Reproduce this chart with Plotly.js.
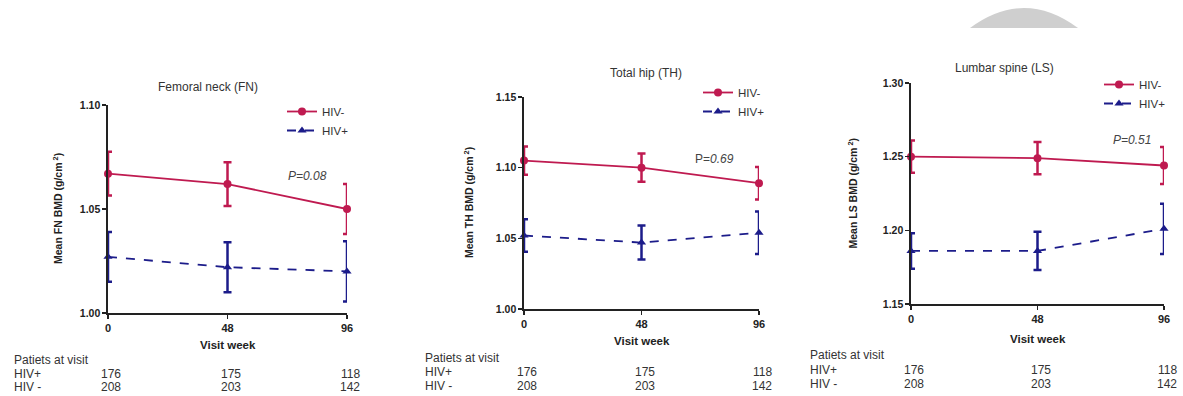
<!DOCTYPE html>
<html>
<head>
<meta charset="utf-8">
<script src="https://cdn.plot.ly/plotly-3.0.1.min.js"></script>
<style>html,body{margin:0;padding:0;background:#fff;}#chart{width:1183px;height:396px;}</style>
</head>
<body>
<div id="chart"></div>
<script>
const weeks = [0, 48, 96];
const weekTicks = ['0', '48', '96'];
const panelTitles = ['Femoral neck (FN)', 'Total hip (TH)', 'Lumbar spine (LS)'];
const yTitles = ['Mean FN BMD (g/cm<sup> 2</sup>)', 'Mean TH BMD (g/cm<sup> 2</sup>)', 'Mean LS BMD (g/cm<sup> 2</sup>)'];
const pLabels = ['<i>P=0.08</i>', 'P=<i>0.69</i>', '<i>P=0.51</i>'];
const seriesNames = ['HIV-', 'HIV+'];

const fnNeg = [1.067, 1.062, 1.050];
const fnNegErr = [0.0105, 0.0105, 0.012];
const fnPos = [1.027, 1.022, 1.020];
const fnPosErr = [0.012, 0.012, 0.0145];

const thNeg = [1.105, 1.100, 1.089];
const thNegErr = [0.010, 0.010, 0.0115];
const thPos = [1.052, 1.047, 1.054];
const thPosErr = [0.0115, 0.012, 0.015];

const lsNeg = [1.250, 1.249, 1.244];
const lsNegErr = [0.011, 0.011, 0.0125];
const lsPos = [1.186, 1.186, 1.201];
const lsPosErr = [0.012, 0.013, 0.017];

const tableHeader = 'Patiets at visit';
const rowLabels = ['HIV+', 'HIV -'];
const hivPosN = [176, 175, 118];
const hivNegN = [208, 203, 142];

const W = 1183, H = 396;
const px = x => x / W;
const py = y => 1 - y / H;

const NEG_COLOR = '#bf1a50';
const POS_COLOR = '#1c1c8a';
const FONT = 'Liberation Sans, Arial, sans-serif';

const panels = [
  {neg: fnNeg, negErr: fnNegErr, pos: fnPos, posErr: fnPosErr, range: [1.00, 1.10],
   xd: [108, 347], yd: [313, 105], legendPos: [282, 97], pPos: [80, 1.066],
   titlePos: [208, 87], yTitleX: 57, xTitleY: 345, tableY: [360, 374, 387], tableX: 12},
  {neg: thNeg, negErr: thNegErr, pos: thPos, posErr: thPosErr, range: [1.00, 1.15],
   xd: [524, 759], yd: [309, 97], legendPos: [698, 78], pPos: [78, 1.106],
   titlePos: [646, 73], yTitleX: 468, xTitleY: 341, tableY: [358, 372, 386], tableX: 423},
  {neg: lsNeg, negErr: lsNegErr, pos: lsPos, posErr: lsPosErr, range: [1.15, 1.30],
   xd: [911, 1164], yd: [304, 83], legendPos: [1099, 70], pPos: [84, 1.261],
   titlePos: [1005, 68], yTitleX: 852, xTitleY: 339, tableY: [355, 370, 384], tableX: 808}
];

const data = [];
const layout = {
  width: W, height: H,
  margin: {l: 0, r: 0, t: 0, b: 0},
  paper_bgcolor: '#ffffff', plot_bgcolor: '#ffffff',
  font: {family: FONT, color: '#333', size: 11},
  annotations: [],
  shapes: [{
    type: 'path', xref: 'paper', yref: 'paper',
    path: `M ${px(970)},${py(28)} Q ${px(1024)},${py(-12)} ${px(1078)},${py(28)} Z`,
    fillcolor: '#cfcfcf', line: {width: 0}, layer: 'below'
  }]
};

panels.forEach((p, i) => {
  const n = i + 1;
  const xa = n === 1 ? 'x' : 'x' + n;
  const ya = n === 1 ? 'y' : 'y' + n;
  const lg = n === 1 ? 'legend' : 'legend' + n;
  data.push({
    x: weeks, y: p.neg, xaxis: xa, yaxis: ya, legend: lg,
    name: seriesNames[0], type: 'scatter', mode: 'lines+markers', cliponaxis: false,
    line: {color: NEG_COLOR, width: 1.8},
    marker: {symbol: 'circle', size: 8, color: NEG_COLOR},
    error_y: {type: 'data', array: p.negErr, visible: true, color: NEG_COLOR, thickness: 2.5, width: 4}
  });
  data.push({
    x: weeks, y: p.pos, xaxis: xa, yaxis: ya, legend: lg,
    name: seriesNames[1], type: 'scatter', mode: 'lines+markers', cliponaxis: false,
    line: {color: POS_COLOR, width: 1.8, dash: 'dash'},
    marker: {symbol: 'triangle-up', size: 8, color: POS_COLOR},
    error_y: {type: 'data', array: p.posErr, visible: true, color: POS_COLOR, thickness: 2.5, width: 4}
  });
  const xName = n === 1 ? 'xaxis' : 'xaxis' + n;
  const yName = n === 1 ? 'yaxis' : 'yaxis' + n;
  layout[xName] = {
    domain: [px(p.xd[0]), px(p.xd[1])], anchor: ya, range: [0, 96],
    tickvals: weeks, ticktext: weekTicks, ticks: 'outside', ticklen: 4, tickwidth: 1.5,
    tickcolor: '#222', showline: true, linecolor: '#222', linewidth: 1.6,
    showgrid: false, zeroline: false, fixedrange: true,
    tickfont: {family: FONT, size: 11, color: '#222', weight: 'bold'}
  };
  layout[yName] = {
    domain: [py(p.yd[0]), py(p.yd[1])], anchor: xa, range: p.range,
    dtick: 0.05, tick0: p.range[0], tickformat: '.2f', ticks: 'outside', ticklen: 4, tickwidth: 1.5,
    tickcolor: '#222', showline: true, linecolor: '#222', linewidth: 1.6,
    showgrid: false, zeroline: false, fixedrange: true,
    tickfont: {family: FONT, size: 10.5, color: '#222', weight: 'bold'}
  };
  layout[lg] = {
    x: px(p.legendPos[0]), y: py(p.legendPos[1]), xanchor: 'left', yanchor: 'top',
    bgcolor: 'rgba(0,0,0,0)', borderwidth: 0, itemwidth: 30,
    font: {family: FONT, size: 11.5, color: '#333'}, tracegroupgap: 0
  };
  layout.annotations.push({
    xref: 'paper', yref: 'paper', x: px(p.titlePos[0]), y: py(p.titlePos[1]),
    text: panelTitles[i], showarrow: false, xanchor: 'center', yanchor: 'middle',
    font: {family: FONT, size: 12, color: '#333'}
  });
  layout.annotations.push({
    xref: 'paper', yref: 'paper', x: px(p.yTitleX), y: py((p.yd[0] + p.yd[1]) / 2),
    text: yTitles[i], showarrow: false, textangle: -90, xanchor: 'center', yanchor: 'middle',
    font: {family: FONT, size: 10.5, color: '#222', weight: 'bold'}
  });
  layout.annotations.push({
    xref: 'paper', yref: 'paper', x: px((p.xd[0] + p.xd[1]) / 2), y: py(p.xTitleY),
    text: 'Visit week', showarrow: false, xanchor: 'center', yanchor: 'middle',
    font: {family: FONT, size: 11.5, color: '#222', weight: 'bold'}
  });
  layout.annotations.push({
    xref: xa, yref: ya, x: p.pPos[0], y: p.pPos[1],
    text: pLabels[i], showarrow: false, xanchor: 'center', yanchor: 'middle',
    font: {family: FONT, size: 12, color: '#444'}
  });
  layout.annotations.push({
    xref: 'paper', yref: 'paper', x: px(p.tableX), y: py(p.tableY[0]),
    text: tableHeader, showarrow: false, xanchor: 'left', yanchor: 'middle',
    font: {family: FONT, size: 12, color: '#333'}
  });
  [hivPosN, hivNegN].forEach((row, r) => {
    layout.annotations.push({
      xref: 'paper', yref: 'paper', x: px(p.tableX), y: py(p.tableY[r + 1]),
      text: rowLabels[r], showarrow: false, xanchor: 'left', yanchor: 'middle',
      font: {family: FONT, size: 12, color: '#333'}
    });
    row.forEach((v, k) => {
      layout.annotations.push({
        xref: xa, yref: 'paper', x: weeks[k], y: py(p.tableY[r + 1]), xshift: 3,
        text: String(v), showarrow: false, xanchor: 'center', yanchor: 'middle',
        font: {family: FONT, size: 12, color: '#333'}
      });
    });
  });
});

Plotly.newPlot('chart', data, layout, {displayModeBar: false, staticPlot: true});
</script>
</body>
</html>
